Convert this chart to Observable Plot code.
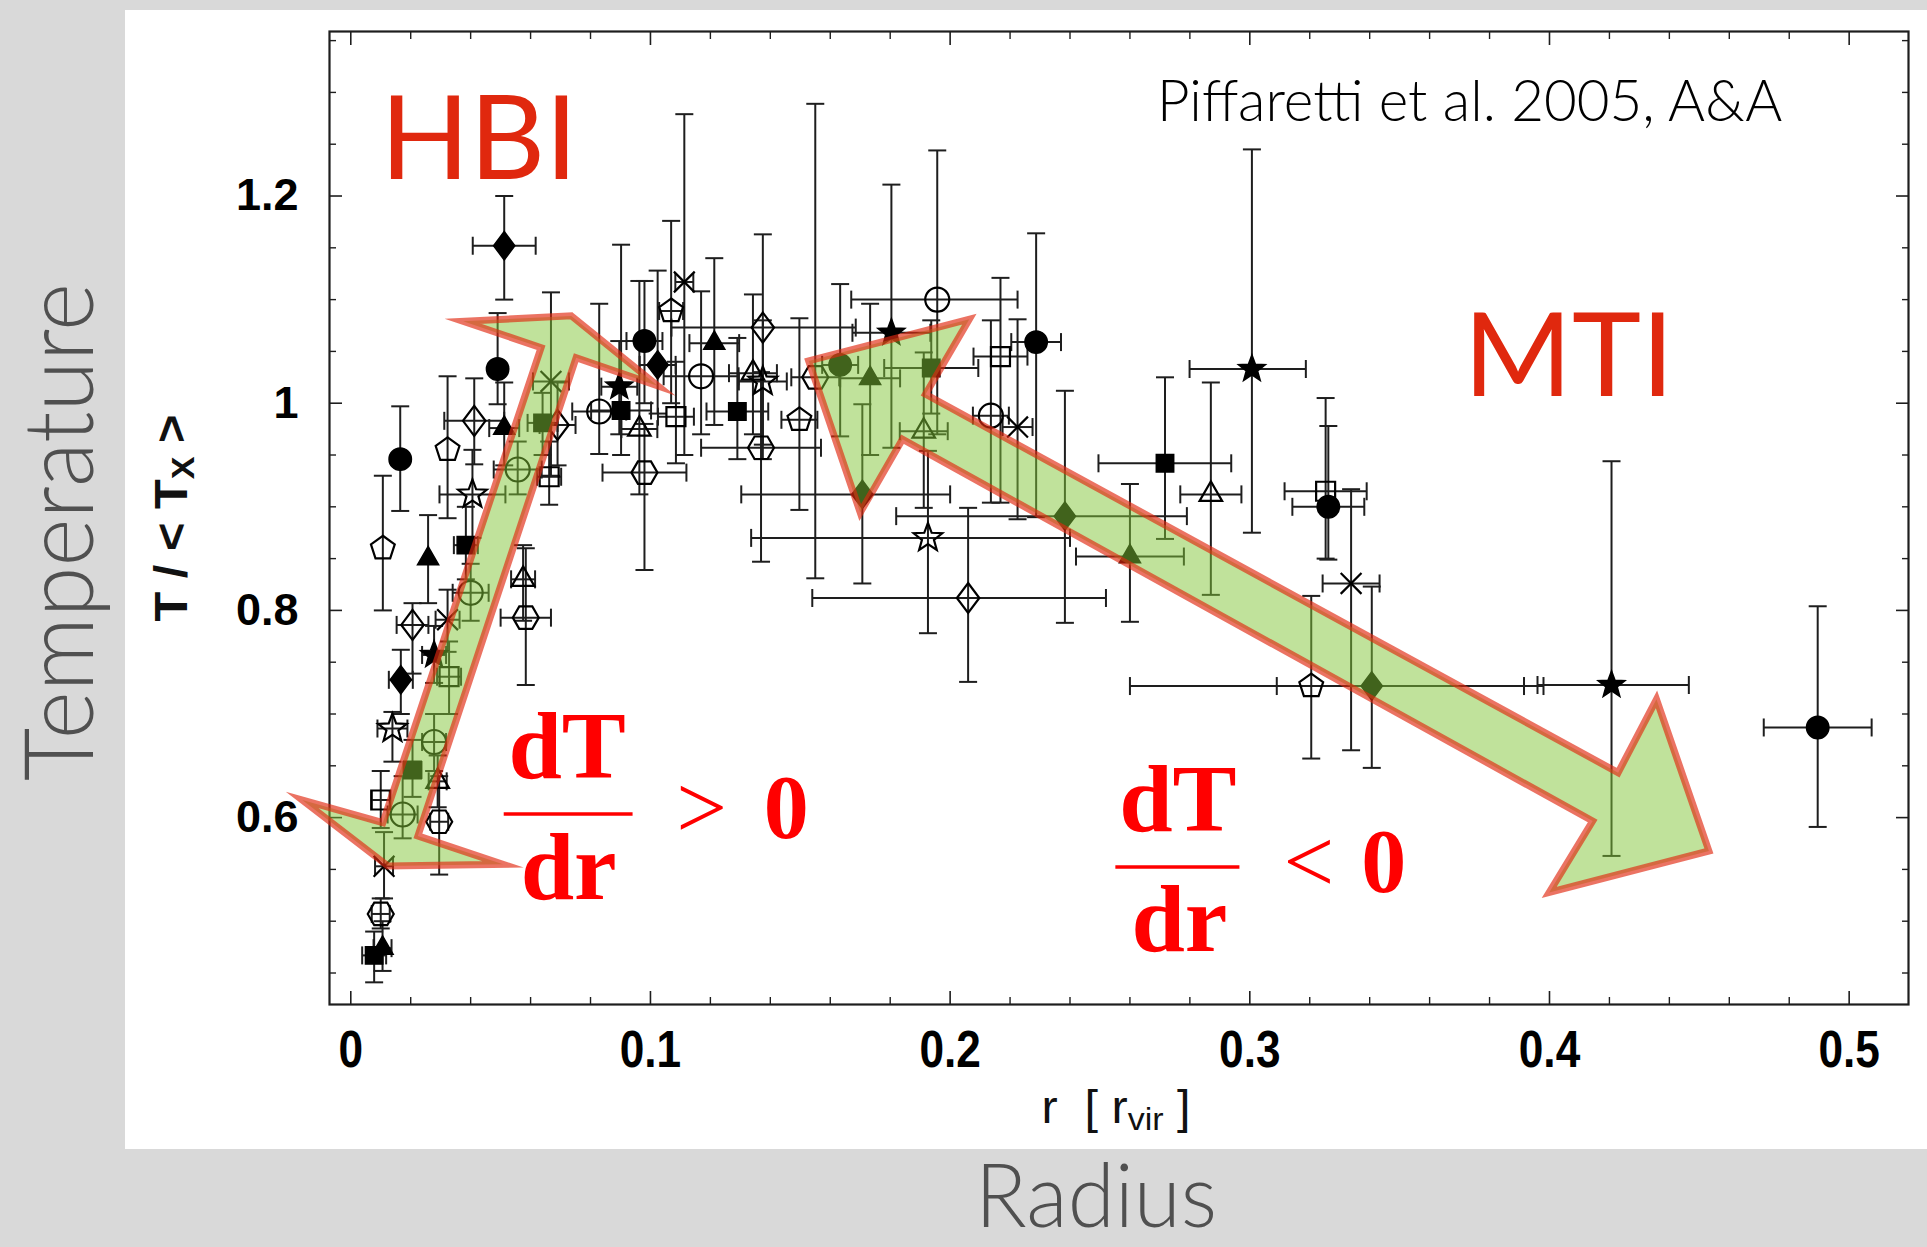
<!DOCTYPE html>
<html><head><meta charset="utf-8">
<script src="https://cdn.jsdelivr.net/npm/d3@7"></script>
<script src="https://cdn.jsdelivr.net/npm/@observablehq/plot@0.6"></script>
<style>
html,body{margin:0;padding:0;background:#d9d9d9;width:1927px;height:1247px;overflow:hidden;position:relative;}
#panel{position:absolute;left:125px;top:10px;width:1802px;height:1139px;background:#fff;}
#chart{position:absolute;left:125px;top:10px;width:1802px;height:1139px;}
.lbl{position:absolute;white-space:nowrap;line-height:1;}
#temp,#radius{font-family:"Lato","Open Sans",sans-serif;font-weight:300;color:#505050;}
#temp{font-size:97px;}
#radius{font-size:88px;}
#ylab{font-family:"Liberation Sans",Arial,sans-serif;font-weight:bold;font-size:46px;color:#111;}
#xlab{font-family:"Liberation Sans",Arial,sans-serif;font-size:46px;color:#111;}
.lbl sub{font-size:0.7em;vertical-align:-0.22em;line-height:0;}
</style></head>
<body>
<div id="panel"></div>
<div id="chart"></div>
<div id="temp" class="lbl">Temperature</div>
<div id="radius" class="lbl">Radius</div>
<div id="ylab" class="lbl">T / &lt; T<sub>X</sub> &gt;</div>
<div id="xlab" class="lbl">r&nbsp;&nbsp;[ r<sub>vir</sub> ]</div>
<script>
// ---- data ----
const radius = [0.0078,0.0106,0.0100,0.0111,0.0100,0.0173,0.0139,0.0167,0.0206,0.0107,
  0.0165,0.0258,0.0323,0.0412,0.0406,0.0384,0.0512,0.0490,0.0512,0.0400,
  0.0278,0.0328,0.0278,0.0206,0.0290,0.0295,0.0323,0.0575,0.0584,0.0557,
  0.0662,0.0668,0.0640,0.0690,0.0980,0.1024,0.0896,0.0829,0.0902,0.0963,
  0.0980,0.1085,0.1169,0.1213,0.1069,0.1113,0.1290,0.1342,0.1375,0.1375,
  0.1369,0.1497,0.1550,0.1633,0.1733,0.1937,0.1912,0.1707,0.1804,0.1957,
  0.2168,0.2287,0.2136,0.2225,0.1926,0.2060,0.2383,0.2600,0.2717,0.2870,
  0.3007,0.3253,0.3262,0.3338,0.3205,0.3407,0.4207,0.4895];
const tempRatio = [0.467,0.474,0.507,0.553,0.617,0.603,0.686,0.733,0.786,0.860,
  0.946,0.850,0.955,0.983,0.912,0.863,0.976,1.033,1.152,0.817,
  0.757,0.736,0.673,0.646,0.635,0.596,0.791,0.830,0.793,0.936,
  0.929,1.021,0.981,0.979,1.060,1.037,1.016,0.992,0.993,0.975,
  0.933,0.987,1.026,1.058,1.089,1.117,0.992,1.029,1.021,1.073,
  0.957,0.984,1.025,1.037,1.024,1.034,0.973,0.912,1.068,1.100,
  1.045,1.059,0.988,0.977,0.870,0.812,0.891,0.852,0.942,0.912,
  1.033,0.915,0.900,0.826,0.727,0.727,0.728,0.687];
// lower and upper ends of the radial error bars (equal to radius where there is none)
const radiusLow = [0.0038,0.0076,0.0070,0.0081,0.0070,0.0123,0.0089,0.0127,0.0153,0.0107,
  0.0165,0.0258,0.0323,0.0312,0.0296,0.0344,0.0462,0.0490,0.0407,0.0340,
  0.0238,0.0288,0.0238,0.0176,0.0260,0.0265,0.0283,0.0535,0.0500,0.0477,
  0.0622,0.0608,0.0590,0.0630,0.0920,0.0964,0.0836,0.0739,0.0802,0.0903,
  0.0840,0.1025,0.1044,0.1130,0.1029,0.1083,0.1187,0.1262,0.1295,0.1070,
  0.1169,0.1437,0.1470,0.1573,0.1633,0.1780,0.1832,0.1303,0.1674,0.1670,
  0.2078,0.2204,0.2076,0.2175,0.1336,0.1540,0.1820,0.2420,0.2495,0.2768,
  0.2799,0.3116,0.3142,0.3243,0.2600,0.3090,0.3960,0.4715];
const radiusHigh = [0.0118,0.0136,0.0130,0.0141,0.0130,0.0223,0.0189,0.0207,0.0259,0.0107,
  0.0165,0.0258,0.0323,0.0512,0.0516,0.0424,0.0562,0.0490,0.0617,0.0460,
  0.0318,0.0368,0.0318,0.0236,0.0320,0.0325,0.0363,0.0615,0.0668,0.0637,
  0.0702,0.0728,0.0690,0.0750,0.1040,0.1084,0.0956,0.0919,0.1002,0.1023,
  0.1120,0.1145,0.1294,0.1296,0.1109,0.1143,0.1393,0.1422,0.1455,0.1685,
  0.1569,0.1557,0.1630,0.1693,0.1833,0.2094,0.1992,0.2000,0.1934,0.2225,
  0.2258,0.2370,0.2196,0.2275,0.2400,0.2520,0.2790,0.2780,0.2938,0.2972,
  0.3187,0.3390,0.3382,0.3433,0.3980,0.3915,0.4465,0.5075];
const tempLow = [0.441,0.452,0.493,0.522,0.590,0.580,0.654,0.700,0.739,0.800,
  0.896,0.807,0.889,0.941,0.870,0.830,0.940,0.999,1.100,0.790,
  0.730,0.700,0.645,0.620,0.610,0.545,0.760,0.790,0.728,0.912,
  0.902,0.930,0.950,0.940,1.000,0.990,0.970,0.951,0.950,0.912,
  0.839,0.942,0.970,0.979,1.000,0.950,0.946,0.970,0.960,0.946,
  0.847,0.897,0.831,0.968,0.950,0.990,0.899,0.826,0.957,0.970,
  0.904,0.890,0.904,0.888,0.778,0.731,0.788,0.789,0.869,0.815,
  0.875,0.850,0.849,0.665,0.657,0.648,0.563,0.591];
const tempHigh = [0.490,0.500,0.522,0.586,0.645,0.640,0.702,0.762,0.807,0.930,
  0.997,0.892,1.026,1.024,0.955,0.900,1.020,1.087,1.200,0.845,
  0.785,0.770,0.700,0.675,0.660,0.640,0.820,0.863,0.860,0.963,
  0.963,1.107,1.010,1.020,1.118,1.128,1.060,1.096,1.153,1.118,
  0.980,1.040,1.108,1.140,1.176,1.279,1.063,1.105,1.080,1.163,
  1.030,1.082,1.289,1.115,1.096,1.080,1.049,0.999,1.211,1.244,
  1.121,1.164,1.080,1.081,0.954,0.899,1.012,0.922,1.025,1.020,
  1.245,1.005,0.978,0.917,0.814,0.823,0.944,0.804];
const marker = ["sq","tri","hex","times","sq","circ","star","dia","dia","pent",
  "circ","tri","pent","dia","star","sq","tri","circ","dia","circ",
  "star","sq","circ","sq","tri","hex","times","tri","hex","circ",
  "sq","times","sq","dia","circ","dia","star","circ","sq","tri",
  "hex","sq","circ","tri","pent","times","sq","tri","star","dia",
  "hex","pent","hex","circ","tri","sq","tri","dia","star","circ",
  "sq","circ","circ","times","star","dia","dia","tri","sq","tri",
  "star","sq","circ","times","pent","dia","star","circ"];
const isFilled = [1,1,0,0,0,0,0,1,0,0,
  1,1,0,0,0,1,1,1,1,0,
  1,0,0,1,0,0,0,0,0,0,
  0,0,1,0,1,1,1,0,1,0,
  0,0,0,1,0,0,1,0,0,0,
  0,0,0,1,1,1,0,1,1,0,
  0,1,0,0,0,0,1,1,1,0,
  1,0,1,0,0,1,1,1];

// annotation arrows (vertices in data units)
const hbiArrowR = [0.0736,0.1025,0.0752,0.0224,0.0508,0.0124,-0.0162,0.0107,0.0635,0.0375];
const hbiArrowT = [1.0843,1.0167,1.0440,0.5823,0.5549,0.5533,0.6170,0.5951,1.0537,1.0790];
const mtiArrowR = [0.1528,0.2064,0.1918,0.4229,0.4357,0.4532,0.3999,0.4144,0.1841,0.1700];
const mtiArrowT = [1.0408,1.0811,1.0087,0.6434,0.7142,0.5678,0.5277,0.5967,0.9652,0.8944];

// axes
const xTicks = [0, 0.1, 0.2, 0.3, 0.4, 0.5];
const yTicks = [0.6, 0.8, 1.0, 1.2];
const xMinorTicks = [0.02,0.04,0.06,0.08,0.12,0.14,0.16,0.18,0.22,0.24,0.26,0.28,0.32,0.34,0.36,0.38,0.42,0.44,0.46,0.48];
const yMinorTicks = [0.45,0.5,0.55,0.65,0.7,0.75,0.85,0.9,0.95,1.05,1.1,1.15,1.25,1.3,1.35];

// ---- build ----
const points = radius.map((r, i) => ({r, T: tempRatio[i], rlo: radiusLow[i], rhi: radiusHigh[i], lo: tempLow[i], hi: tempHigh[i], marker: marker[i], filled: isFilled[i] === 1}));
const withXErr = points.filter(d => d.rhi > d.rlo);
const hbiArrow = hbiArrowR.map((r, i) => ({r, T: hbiArrowT[i]}));
const mtiArrow = mtiArrowR.map((r, i) => ({r, T: mtiArrowT[i]}));

const rad = s => Math.sqrt(s / Math.PI);
function poly(c, pts) { c.moveTo(pts[0][0], pts[0][1]); for (let k = 1; k < pts.length; k++) c.lineTo(pts[k][0], pts[k][1]); c.closePath(); }
function ngon(R, n, inner) {
  const pts = [];
  const m = inner ? 2 * n : n;
  for (let k = 0; k < m; k++) {
    const a = -Math.PI / 2 + k * 2 * Math.PI / m;
    const rr = inner && k % 2 ? R * inner : R;
    pts.push([rr * Math.cos(a), rr * Math.sin(a)]);
  }
  return pts;
}
const shapes = {
  circ: {draw(c, s) { const R = rad(s); c.moveTo(R, 0); c.arc(0, 0, R, 0, 2 * Math.PI); c.closePath(); }},
  sq: {draw(c, s) { const h = rad(s); poly(c, [[-h,-h],[h,-h],[h,h],[-h,h]]); }},
  tri: {draw(c, s) { const R = rad(s); poly(c, [[0,-R],[0.866*R,0.5*R],[-0.866*R,0.5*R]]); }},
  dia: {draw(c, s) { const R = rad(s); poly(c, [[0,-R],[0.75*R,0],[0,R],[-0.75*R,0]]); }},
  pent: {draw(c, s) { poly(c, ngon(rad(s), 5)); }},
  hex: {draw(c, s) { const R = rad(s); poly(c, ngon(R, 6).map(([x, y]) => [y, x])); }},
  star: {draw(c, s) { poly(c, ngon(rad(s), 5, 0.42)); }},
  times: {draw(c, s) { const R = rad(s) * 0.8; c.moveTo(-R,-R); c.lineTo(R,R); c.moveTo(R,-R); c.lineTo(-R,R); }}
};
const shapeSize = {circ: 12, sq: 9.5, tri: 13, dia: 15, pent: 12.5, hex: 13, star: 15, times: 13};
const capH = {draw(c, s) { const R = rad(s); c.moveTo(-R, 0); c.lineTo(R, 0); }};
const capV = {draw(c, s) { const R = rad(s); c.moveTo(0, -R); c.lineTo(0, R); }};

const ink = "#1e1e1e";
const sans = "Liberation Sans, Arial, sans-serif";
const serif = "Liberation Serif, Times New Roman, serif";
const fmt = d => `${+d.toFixed(2)}`;
const red = "#ff0000";
const labelRed = "#e0280e";

const symbolMarks = [];
for (const k of Object.keys(shapes)) {
  symbolMarks.push(Plot.dot(points.filter(d => d.marker === k && d.filled), {x: "r", y: "T", symbol: shapes[k], r: shapeSize[k] - 0.8, fill: "black", stroke: "black", strokeWidth: 1.5}));
  symbolMarks.push(Plot.dot(points.filter(d => d.marker === k && !d.filled), {x: "r", y: "T", symbol: shapes[k], r: shapeSize[k], fill: "none", stroke: "black", strokeWidth: 2.2}));
}

const arrowStyle = {x: "r", y: "T", curve: "linear-closed", fill: "#81c537", fillOpacity: 0.5, stroke: "#e1280f", strokeOpacity: 0.65, strokeWidth: 7, strokeLinejoin: "miter", strokeMiterlimit: 10};

const chart = Plot.plot({
  width: 1802, height: 1139,
  marginLeft: 204, marginRight: 19, marginTop: 21, marginBottom: 145,
  x: {domain: [-0.0071, 0.5198], label: null},
  y: {domain: [0.4196, 1.3588], label: null},
  style: {background: "white", overflow: "visible"},
  marks: [
    // error bars
    Plot.link(withXErr, {x1: "rlo", x2: "rhi", y1: "T", y2: "T", stroke: ink, strokeWidth: 2}),
    Plot.link(points, {x1: "r", x2: "r", y1: "lo", y2: "hi", stroke: ink, strokeWidth: 2}),
    Plot.dot(points, {x: "r", y: "lo", symbol: capH, r: 9, fill: "none", stroke: ink, strokeWidth: 2}),
    Plot.dot(points, {x: "r", y: "hi", symbol: capH, r: 9, fill: "none", stroke: ink, strokeWidth: 2}),
    Plot.dot(withXErr, {x: "rlo", y: "T", symbol: capV, r: 9, fill: "none", stroke: ink, strokeWidth: 2}),
    Plot.dot(withXErr, {x: "rhi", y: "T", symbol: capV, r: 9, fill: "none", stroke: ink, strokeWidth: 2}),
    ...symbolMarks,
    // frame and ticks (gnuplot style, inward on all sides)
    Plot.frame({stroke: ink, strokeWidth: 2.2}),
    Plot.axisX({anchor: "bottom", ticks: xTicks, tickSize: -13, fill: "none", stroke: ink, strokeWidth: 1.6}),
    Plot.axisX({anchor: "top", ticks: xTicks, tickSize: -13, fill: "none", stroke: ink, strokeWidth: 1.6}),
    Plot.axisX({anchor: "bottom", ticks: xMinorTicks, tickSize: -7, fill: "none", stroke: ink, strokeWidth: 1.4}),
    Plot.axisX({anchor: "top", ticks: xMinorTicks, tickSize: -7, fill: "none", stroke: ink, strokeWidth: 1.4}),
    Plot.axisY({anchor: "left", ticks: yTicks, tickSize: -13, fill: "none", stroke: ink, strokeWidth: 1.6}),
    Plot.axisY({anchor: "right", ticks: yTicks, tickSize: -13, fill: "none", stroke: ink, strokeWidth: 1.6}),
    Plot.axisY({anchor: "left", ticks: yMinorTicks, tickSize: -7, fill: "none", stroke: ink, strokeWidth: 1.4}),
    Plot.axisY({anchor: "right", ticks: yMinorTicks, tickSize: -7, fill: "none", stroke: ink, strokeWidth: 1.4}),
    Plot.axisX({anchor: "bottom", ticks: xTicks, tickSize: 0, tickPadding: 26, tickFormat: fmt, fontSize: 52, fontWeight: "bold", fontFamily: sans, fill: "#000", label: null}),
    Plot.axisY({anchor: "left", ticks: yTicks, tickSize: 0, tickPadding: 31, tickFormat: fmt, fontSize: 45, fontWeight: "bold", fontFamily: sans, fill: "#000", label: null}),
    // annotation arrows
    Plot.line(hbiArrow, arrowStyle),
    Plot.line(mtiArrow, arrowStyle),
    // annotation texts
    Plot.text([{t: "HBI", r: 0.0098, T: 1.2166}], {x: "r", y: "T", text: "t", textAnchor: "start", lineAnchor: "bottom", fontSize: 117, fontFamily: "Lato, Open Sans, sans-serif", fill: labelRed}),
    Plot.text([{t: "MTI", r: 0.3713, T: 1.0070}], {x: "r", y: "T", text: "t", textAnchor: "start", lineAnchor: "bottom", fontSize: 117, fontFamily: "Lato, Open Sans, sans-serif", fill: labelRed}),
    Plot.text([{t: "Piffaretti et al. 2005, A&A", r: 0.2690, T: 1.2725}], {x: "r", y: "T", text: "t", textAnchor: "start", lineAnchor: "bottom", fontSize: 56.5, fontWeight: 300, fontFamily: "Lato, Open Sans, sans-serif", fill: "#000"}),
    // dT/dr > 0
    Plot.text([{t: "dT", r: 0.0722, T: 0.6383}, {t: "dr", r: 0.0727, T: 0.5214}], {x: "r", y: "T", text: "t", lineAnchor: "bottom", fontSize: 96, fontWeight: "bold", fontFamily: serif, fill: red}),
    Plot.ruleY([{T: 0.6035}], {y: "T", x1: 0.0512, x2: 0.0942, stroke: red, strokeWidth: 3.5}),
    Plot.text([{t: ">", r: 0.1171, T: 0.5801}], {x: "r", y: "T", text: "t", lineAnchor: "bottom", fontSize: 90, fontFamily: serif, fill: red}),
    Plot.text([{t: "0", r: 0.1453, T: 0.5801}], {x: "r", y: "T", text: "t", lineAnchor: "bottom", fontSize: 90, fontWeight: "bold", fontFamily: serif, fill: red}),
    // dT/dr < 0
    Plot.text([{t: "dT", r: 0.2760, T: 0.5871}, {t: "dr", r: 0.2765, T: 0.4712}], {x: "r", y: "T", text: "t", lineAnchor: "bottom", fontSize: 96, fontWeight: "bold", fontFamily: serif, fill: red}),
    Plot.ruleY([{T: 0.5523}], {y: "T", x1: 0.2553, x2: 0.2967, stroke: red, strokeWidth: 3.5}),
    Plot.text([{t: "<", r: 0.3197, T: 0.5282}], {x: "r", y: "T", text: "t", lineAnchor: "bottom", fontSize: 90, fontFamily: serif, fill: red}),
    Plot.text([{t: "0", r: 0.3447, T: 0.5282}], {x: "r", y: "T", text: "t", lineAnchor: "bottom", fontSize: 90, fontWeight: "bold", fontFamily: serif, fill: red})
  ]
});
document.getElementById("chart").appendChild(chart);

// condensed x tick labels
d3.select(chart).selectAll('g[aria-label="x-axis tick label"] text').each(function() {
  const t = this.getAttribute("transform") || "";
  this.setAttribute("transform", t + " scale(0.85,1)");
});

// outer labels, fitted to their measured length in the reference
function place(id, cx, cy, len, rotate) {
  const el = document.getElementById(id);
  const w = el.getBoundingClientRect().width;
  const s = len / w;
  el.style.left = cx + "px";
  el.style.top = cy + "px";
  el.style.transform = `translate(-50%,-50%)${rotate ? " rotate(-90deg)" : ""} scaleX(${s})`;
}
place("temp", 55, 532, 498, true);
place("radius", 1096, 1193, 242, false);
place("ylab", 171, 518, 207, true);
place("xlab", 1116, 1107, 149, false);
</script>
</body></html>
